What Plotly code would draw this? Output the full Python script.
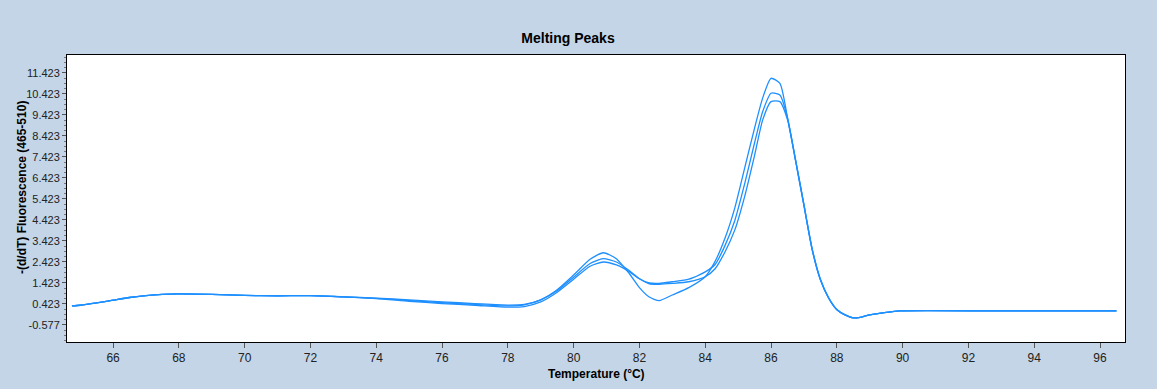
import plotly.graph_objects as go

temps = [64.75, 65.0, 65.5, 66.0, 66.5, 67.0, 67.5, 68.0, 69.0, 70.0, 71.0, 72.0, 73.0, 74.0,
         75.0, 76.0, 77.0, 78.0, 78.5, 79.0, 79.5, 80.0, 80.5, 80.9, 81.3, 81.7, 82.0, 82.3,
         82.6, 83.0, 83.5, 84.0, 84.3, 84.6, 84.9, 85.2, 85.5, 85.75, 86.0, 86.27, 86.5,
         86.75, 87.0, 87.25, 87.5, 87.75, 88.0, 88.25, 88.5, 88.75, 89.0, 89.5, 89.9, 93.0, 96.5]

sample_a = [0.33, 0.36, 0.47, 0.60, 0.73, 0.82, 0.88, 0.90, 0.88, 0.83, 0.81, 0.82, 0.76, 0.69,
            0.58, 0.48, 0.40, 0.33, 0.38, 0.62, 1.10, 1.80, 2.55, 2.86, 2.58, 1.85, 1.20, 0.75,
            0.58, 0.85, 1.20, 1.72, 2.45, 3.55, 5.00, 6.90, 8.80, 10.25, 11.17, 10.93, 9.30,
            7.20, 5.10, 3.00, 1.57, 0.70, 0.15, -0.10, -0.24, -0.20, -0.10, 0.02, 0.09, 0.09, 0.09]

sample_b = [0.33, 0.36, 0.47, 0.60, 0.73, 0.82, 0.88, 0.90, 0.88, 0.83, 0.81, 0.82, 0.76, 0.70,
            0.62, 0.52, 0.44, 0.37, 0.40, 0.62, 1.05, 1.70, 2.35, 2.58, 2.42, 2.00, 1.62, 1.42,
            1.40, 1.48, 1.60, 1.95, 2.30, 3.20, 4.40, 6.15, 8.10, 9.60, 10.46, 10.38, 9.30,
            7.25, 5.15, 3.05, 1.60, 0.72, 0.16, -0.10, -0.24, -0.20, -0.10, 0.02, 0.09, 0.09, 0.09]

sample_c = [0.33, 0.36, 0.47, 0.60, 0.73, 0.82, 0.88, 0.90, 0.88, 0.83, 0.81, 0.82, 0.76, 0.68,
            0.55, 0.44, 0.36, 0.27, 0.30, 0.52, 0.98, 1.60, 2.22, 2.42, 2.28, 1.95, 1.62, 1.38,
            1.36, 1.40, 1.48, 1.72, 2.10, 2.90, 3.95, 5.55, 7.50, 9.20, 10.06, 10.06, 9.20,
            7.25, 5.15, 3.05, 1.60, 0.72, 0.16, -0.10, -0.24, -0.20, -0.10, 0.02, 0.09, 0.09, 0.09]

series = {"Sample 1": sample_a, "Sample 2": sample_b, "Sample 3": sample_c}

y_ticks = [-0.577 + i for i in range(13)]
y_ticktext = ["%.3f" % v for v in y_ticks]
x_ticks = list(range(66, 97, 2))

fig = go.Figure()
for name, vals in series.items():
    fig.add_trace(go.Scatter(x=temps, y=vals, mode="lines", name=name,
                             line=dict(color="#1E8FFF", width=1.3, shape="spline", smoothing=0.6)))

W, H = 1157, 389
L, R, T, B = 67, 1125, 55, 342

sans = "Liberation Sans, Arial, sans-serif"
tick_font = dict(family=sans, size=11, color="#222")

fig.update_layout(
    width=W, height=H,
    margin=dict(l=L, r=W - R, t=T, b=H - B),
    paper_bgcolor="#C3D5E6", plot_bgcolor="white",
    showlegend=False,
    title=dict(text="<b>Melting Peaks</b>", x=568 / W, xanchor="center",
               y=1 - 38 / H, yanchor="middle", yref="container",
               font=dict(family=sans, size=14, color="black")),
    xaxis=dict(range=[64.6, 96.76], tickmode="array", tickvals=x_ticks,
               ticks="outside", ticklen=5, tickcolor="#555", showgrid=False, zeroline=False,
               showline=True, linecolor="black", linewidth=1, mirror=True,
               tickfont=dict(tick_font, size=12)),
    yaxis=dict(range=[-1.39, 12.28], tickmode="array", tickvals=y_ticks, ticktext=y_ticktext,
               ticks="outside", ticklen=4, tickcolor="#555", showgrid=False, zeroline=False,
               showline=True, linecolor="black", linewidth=1, mirror=True,
               tickfont=tick_font,
               minor=dict(ticks="outside", ticklen=2, tickcolor="#777", dtick=0.25, tick0=-0.577)),
    annotations=[
        dict(text="<b>Temperature (°C)</b>", xref="paper", yref="paper", x=0.5, y=(B - 374) / (B - T),
             xanchor="center", yanchor="middle", showarrow=False,
             font=dict(family=sans, size=12, color="black")),
        dict(text="<b>-(d/dT) Fluorescence (465-510)</b>", xref="paper", yref="paper",
             x=(22 - L) / (R - L), y=(B - 188) / (B - T), textangle=-90,
             xanchor="center", yanchor="middle", showarrow=False,
             font=dict(family=sans, size=12, color="black")),
    ],
)

fig.write_html("out.html")
